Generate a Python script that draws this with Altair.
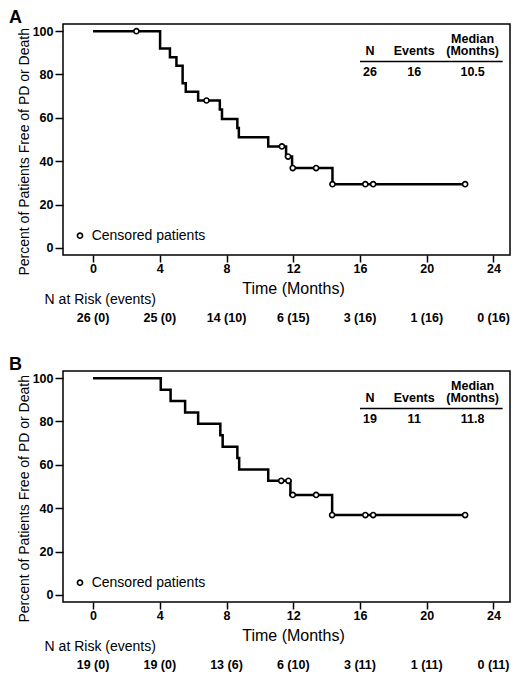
import pandas as pd
import altair as alt

FONT = "Liberation Sans"

# ---- data ----
months = [0, 4, 8, 12, 16, 20, 24]
table_header = ["N", "Events"]

# panel A
a_time = [0, 4.02, 4.61, 5.0, 5.37, 5.56, 6.3, 7.6, 7.73, 8.65, 8.74, 10.5, 11.57, 11.93, 14.35, 22.3]
a_surv = [100, 92, 88, 84, 76, 72, 68, 63.8, 59.5, 55.3, 51, 46.8, 42.1, 36.8, 29.4, 29.4]
a_cens_time = [2.6, 6.8, 11.32, 11.69, 11.97, 13.37, 14.35, 16.32, 16.79, 22.3]
a_cens_surv = [100, 68, 46.8, 42.1, 36.8, 36.8, 29.4, 29.4, 29.4, 29.4]
a_table = ["26", "16", "10.5"]
a_risk = ["26 (0)", "25 (0)", "14 (10)", "6 (15)", "3 (16)", "1 (16)", "0 (16)"]

# panel B
b_time = [0, 4.06, 4.65, 5.52, 6.3, 7.63, 7.77, 8.65, 8.76, 10.5, 11.83, 14.33, 22.3]
b_surv = [100, 94.7, 89.5, 84.2, 78.9, 73.7, 68.4, 63.2, 57.9, 52.6, 46.1, 36.8, 36.8]
b_cens_time = [11.28, 11.71, 11.97, 13.37, 14.33, 16.32, 16.79, 22.3]
b_cens_surv = [52.6, 52.6, 46.1, 46.1, 36.8, 36.8, 36.8, 36.8]
b_table = ["19", "11", "11.8"]
b_risk = ["19 (0)", "19 (0)", "13 (6)", "6 (10)", "3 (11)", "1 (11)", "0 (11)"]

# table column positions (months)
col_x = [16.6, 19.25, 22.75]

W, H = 447, 231


def km_panel(letter, times, surv, cens_t, cens_s, table_vals, risk):
    xs = alt.Scale(domain=[-1.798, 24.989], nice=False, zero=False)
    ys = alt.Scale(domain=[-3.3, 103.3], nice=False, zero=False)
    xaxis = alt.Axis(values=months, title="Time (Months)", grid=False, domain=False,
                     tickSize=7, tickWidth=1.5, tickColor="black", labelPadding=0,
                     labelFontSize=12.5, labelFontWeight="bold", labelColor="black",
                     titleFontSize=16, titleFontWeight="normal", titleColor="black",
                     titleX=230, titleY=33.5, titleBaseline="middle")
    yaxis = alt.Axis(values=[0, 20, 40, 60, 80, 100], title="Percent of Patients Free of PD or Death",
                     grid=False, domain=False, tickSize=8, tickWidth=1.5, tickColor="black",
                     labelPadding=2, labelFontSize=12.5, labelFontWeight="bold", labelColor="black",
                     titleFontSize=14, titleFontWeight="normal", titleColor="black",
                     titleAngle=270, titleX=-39, titleY=127.3, titleAlign="center",
                     titleBaseline="middle")
    X = alt.X("t:Q", scale=xs, axis=xaxis)
    Y = alt.Y("s:Q", scale=ys, axis=yaxis)

    curve = alt.Chart(pd.DataFrame({"t": times, "s": surv})).mark_line(
        interpolate="step-after", color="black", strokeWidth=2.5
    ).encode(x=X, y=Y)

    cens = alt.Chart(pd.DataFrame({"t": cens_t, "s": cens_s})).mark_point(
        shape="circle", filled=True, fill="white", stroke="black", strokeWidth=1.6, size=26, opacity=1
    ).encode(x=X, y=Y)

    # legend for censored patients
    leg_pt = alt.Chart(pd.DataFrame({"t": [-0.78], "s": [5.6]})).mark_point(
        shape="circle", filled=True, fill="white", stroke="black", strokeWidth=1.6, size=26, opacity=1
    ).encode(x=X, y=Y)
    leg_txt = alt.Chart(pd.DataFrame({"t": [-0.08], "s": [5.6], "label": ["Censored patients"]})).mark_text(
        font=FONT, fontSize=14, align="left", baseline="middle", color="black"
    ).encode(x=X, y=Y, text="label")

    # summary table
    head = alt.Chart(pd.DataFrame({"t": col_x[:2], "s": [90.9, 90.9], "label": table_header})).mark_text(
        font=FONT, fontSize=12.5, fontWeight="bold", align="center", baseline="middle", color="black"
    ).encode(x=X, y=Y, text="label")
    med_head = alt.Chart(pd.DataFrame({"t": [col_x[2]], "s": [96.5],
                                       "label": [["Median", "(Months)"]]})).mark_text(
        font=FONT, fontSize=12.5, fontWeight="bold", align="center", baseline="middle",
        lineHeight=12.5, color="black"
    ).encode(x=X, y=Y, text="label")
    line = alt.Chart(pd.DataFrame({"t": [16.0], "t2": [24.55], "s": [86.0]})).mark_rule(
        color="black", strokeWidth=1.5
    ).encode(x=X, x2="t2:Q", y=Y)
    vals = alt.Chart(pd.DataFrame({"t": col_x, "s": [81.3] * 3, "label": table_vals})).mark_text(
        font=FONT, fontSize=12.5, fontWeight="bold", align="center", baseline="middle", color="black"
    ).encode(x=X, y=Y, text="label")

    # number at risk table
    risk_head = alt.Chart(pd.DataFrame({"t": [-2.9], "s": [-24.1], "label": ["N at Risk (events)"]})).mark_text(
        font=FONT, fontSize=14, align="left", baseline="middle", color="black"
    ).encode(x=X, y=Y, text="label")
    risk_txt = alt.Chart(pd.DataFrame({"t": months, "s": [-32.6] * 7, "label": risk})).mark_text(
        font=FONT, fontSize=12.5, fontWeight="bold", align="center", baseline="middle", color="black"
    ).encode(x=X, y=Y, text="label")

    tag = alt.Chart(pd.DataFrame({"label": [letter]})).mark_text(
        font=FONT, fontSize=18, fontWeight="bold", align="left", baseline="alphabetic", color="black"
    ).encode(x=alt.value(-54), y=alt.value(-0.8), text="label")

    return alt.layer(curve, cens, leg_pt, leg_txt, head, med_head, line, vals,
                     risk_head, risk_txt, tag).properties(width=W, height=H)


panel_a = km_panel("A", a_time, a_surv, a_cens_time, a_cens_surv, a_table, a_risk)
panel_b = km_panel("B", b_time, b_surv, b_cens_time, b_cens_surv, b_table, b_risk)

chart = alt.vconcat(panel_a, panel_b, spacing=116, bounds="flush").properties(
    padding=0
).configure_view(
    stroke="black", strokeWidth=1.5
).configure_axis(
    labelFont=FONT, titleFont=FONT
)

chart.save("out.html", embed_options={"renderer": "svg", "actions": False})
